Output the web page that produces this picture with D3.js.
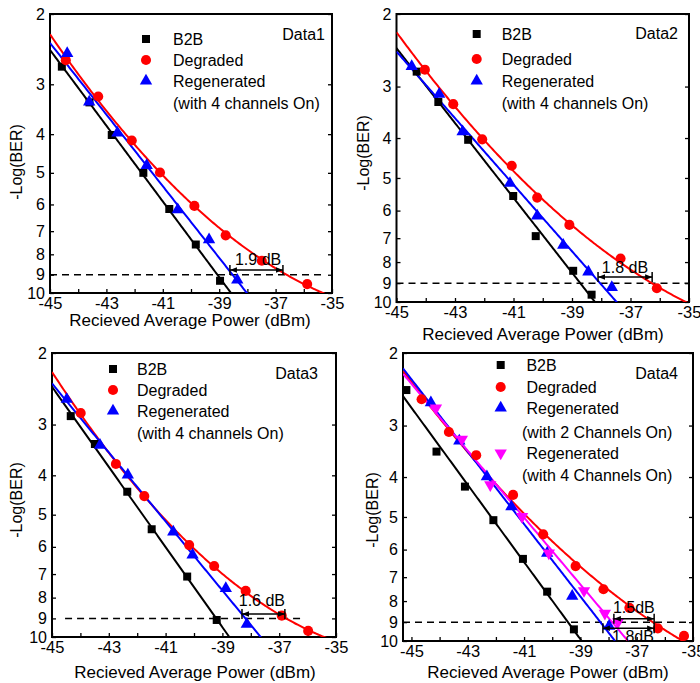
<!DOCTYPE html>
<html><head><meta charset="utf-8">
<script src="https://cdn.jsdelivr.net/npm/d3@7"></script>
<style>body{margin:0;background:#fff} text{font-family:"Liberation Sans",Arial,sans-serif;fill:#000}</style>
</head><body><svg id="c" width="700" height="683"></svg>
<script>
// ---------- DATA ----------
const xTickValues = [-45,-44,-43,-42,-41,-40,-39,-38,-37,-36,-35];
const xTickLabels = ["-45","","-43","","-41","","-39","","-37","","-35"];
const yTickValues = [2,3,4,5,6,7,8,9,10];
const threshold = 9;

// Panel 1 (Data1)
const p1_b2b_x = [-44.58,-43.60,-42.81,-41.69,-40.77,-39.83,-38.97];
const p1_b2b_y = [2.71,3.33,4.02,5.00,6.16,7.56,9.32];
const p1_deg_x = [-44.44,-43.29,-42.10,-41.10,-39.88,-38.77,-37.49,-35.88];
const p1_deg_y = [2.61,3.22,4.15,4.99,6.05,7.17,8.30,9.50];
const p1_reg_x = [-44.39,-43.61,-42.61,-41.57,-40.47,-39.36,-38.36];
const p1_reg_y = [2.51,3.32,3.97,4.79,6.18,7.35,9.28];

// Panel 2 (Data2)
const p2_b2b_x = [-44.31,-43.57,-42.55,-41.01,-40.24,-38.96,-38.33];
const p2_b2b_y = [2.76,3.27,4.04,5.53,6.92,8.40,9.60];
const p2_deg_x = [-44.03,-43.06,-42.07,-41.06,-40.19,-39.09,-37.34,-36.10];
const p2_deg_y = [2.73,3.31,4.03,4.67,5.58,6.50,7.84,9.26];
const p2_reg_x = [-44.48,-43.54,-42.74,-41.12,-40.19,-39.30,-38.44,-37.64];
const p2_reg_y = [2.68,3.13,3.86,5.15,6.18,7.28,8.45,9.22];

// Panel 3 (Data3)
const p3_b2b_x = [-44.34,-43.49,-42.35,-41.49,-40.24,-39.20];
const p3_b2b_y = [2.86,3.35,4.39,5.43,7.10,9.08];
const p3_deg_x = [-43.99,-42.75,-41.75,-40.17,-39.29,-38.18,-36.91,-35.98];
const p3_deg_y = [2.81,3.75,4.50,5.94,6.69,7.70,8.86,9.66];
const p3_reg_x = [-44.48,-43.31,-42.33,-40.73,-40.05,-38.88,-38.14];
const p3_reg_y = [2.60,3.37,3.99,5.51,6.28,7.59,9.30];

// Panel 4 (Data4)
const p4_b2b_x = [-45.18,-44.11,-43.10,-42.09,-41.04,-40.18,-39.23];
const p4_b2b_y = [2.46,3.47,4.22,5.09,6.32,7.59,9.37];
const p4_deg_x = [-44.64,-43.67,-42.70,-41.39,-40.32,-39.17,-38.18,-37.26,-36.25,-35.32];
const p4_deg_y = [2.59,3.11,3.54,4.42,5.51,6.58,7.49,8.31,9.32,9.72];
const p4_reg2_x = [-44.31,-43.30,-42.32,-41.45,-40.18,-39.29,-37.98];
const p4_reg2_y = [2.64,3.27,3.99,4.72,6.12,7.78,9.20];
const p4_reg4_x = [-44.13,-43.21,-42.20,-41.07,-40.12,-38.87,-38.13,-37.66];
const p4_reg4_y = [2.72,3.24,4.18,4.99,6.12,7.55,8.57,8.98];

// Threshold line extents (x from, x to) per panel
const thrExtent = [[-45,-35.35],[-45,-35],[-44.54,-36.2],[-45.3,-35]];

// Annotations: [x1, x2, yArrow, labelX, labelY, text]
const p1_ann = [[-38.62,-36.74,8.76,-37.62,8.22,"1.9 dB"]];
const p2_ann = [[-38.11,-36.26,8.70,-37.19,8.22,"1.8 dB"]];
const p3_ann = [[-38.31,-36.80,8.78,-37.61,8.12,"1.6 dB"]];
const p4_ann = [[-37.81,-36.38,8.83,-37.10,8.28,"1.5dB"],[-38.20,-36.38,9.31,-37.13,9.77,"1.8dB"]];

const legend4ch = ["B2B","Degraded","Regenerated","(with 4 channels On)"];
const legendP4 = [" B2B"," Degraded"," Regenerated","(with 2 Channels On)"," Regenerated","(with 4 Channels On)"];

// ---------- STYLES / LAYOUT ----------
const BLACK="#000000", RED="#ff0000", BLUE="#0000ff", MAG="#ff00ff";
const S = (x,y,deg,color,sym)=>({x,y,deg,color,sym});
const panels = [
 {name:"Data1", box:{l:50,r:332,t:14,b:293}, xDom:[-45,-35],
  series:[S(p1_b2b_x,p1_b2b_y,1,BLACK,"sq"),S(p1_deg_x,p1_deg_y,2,RED,"ci"),S(p1_reg_x,p1_reg_y,1,BLUE,"up")],
  legend:{mx:146,tx:173,ptx:173,rows:[39,60,81,103],texts:legend4ch,syms:[["sq",BLACK],["ci",RED],["up",BLUE],null]},
  ann:p1_ann, dl:[325,34], xt:[190,326], yt:[16,162]},
 {name:"Data2", box:{l:396.5,r:689,t:14,b:302}, xDom:[-45,-35],
  series:[S(p2_b2b_x,p2_b2b_y,1,BLACK,"sq"),S(p2_deg_x,p2_deg_y,2,RED,"ci"),S(p2_reg_x,p2_reg_y,1,BLUE,"up")],
  legend:{mx:476.7,tx:501.7,ptx:501.7,rows:[34,59,81,103],texts:legend4ch,syms:[["sq",BLACK],["ci",RED],["up",BLUE],null]},
  ann:p2_ann, dl:[678,33], xt:[543,340], yt:[363,153]},
 {name:"Data3", box:{l:52,r:336,t:353,b:637}, xDom:[-45,-35],
  series:[S(p3_b2b_x,p3_b2b_y,1,BLACK,"sq"),S(p3_deg_x,p3_deg_y,2,RED,"ci"),S(p3_reg_x,p3_reg_y,1,BLUE,"up")],
  legend:{mx:113,tx:137,ptx:137,rows:[369,390,411,433],texts:legend4ch,syms:[["sq",BLACK],["ci",RED],["up",BLUE],null]},
  ann:p3_ann, dl:[318,373], xt:[195,678], yt:[16,500]},
 {name:"Data4", box:{l:403,r:693,t:353,b:641}, xDom:[-45.3,-35],
  series:[S(p4_b2b_x,p4_b2b_y,1,BLACK,"sq"),S(p4_deg_x,p4_deg_y,2,RED,"ci"),S(p4_reg2_x,p4_reg2_y,1,BLUE,"up"),S(p4_reg4_x,p4_reg4_y,1,MAG,"dn")],
  legend:{mx:500.7,tx:522,ptx:522,rows:[365,387,408,432,453,475],texts:legendP4,syms:[["sq",BLACK],["ci",RED],["up",BLUE],null,["dn",MAG],null]},
  ann:p4_ann, dl:[678,373], xt:[548,678], yt:[372,510]}
];

// ---------- HELPERS ----------
function polyfit(xs, ys, deg){
  const n=deg+1, A=[...Array(n)].map(()=>Array(n+1).fill(0));
  xs.forEach((x,i)=>{const y=ys[i];
    for(let r=0;r<n;r++){for(let c=0;c<n;c++)A[r][c]+=Math.pow(x,r+c);A[r][n]+=y*Math.pow(x,r);}});
  for(let i=0;i<n;i++){let p=i;for(let k=i+1;k<n;k++)if(Math.abs(A[k][i])>Math.abs(A[p][i]))p=k;[A[i],A[p]]=[A[p],A[i]];
    for(let k=0;k<n;k++){if(k===i)continue;const f=A[k][i]/A[i][i];for(let c=i;c<=n;c++)A[k][c]-=f*A[i][c];}}
  return A.map((row,i)=>row[n]/row[i]);
}
const symPath = {
  sq: d3.symbol(d3.symbolSquare,64)(),
  ci: d3.symbol(d3.symbolCircle,80)(),
  up: d3.symbol(d3.symbolTriangle,66)(),
  dn: d3.symbol(d3.symbolTriangle,66)()
};
function drawSym(g,sym,color,x,y){
  g.append("path").attr("d",symPath[sym]).attr("fill",color)
   .attr("transform",`translate(${x},${y})`+(sym==="dn"?" rotate(180)":""));
}

const svg=d3.select("#c");
const defs=svg.append("defs");
defs.append("marker").attr("id","ah").attr("viewBox","0 0 10 10").attr("refX",10).attr("refY",5)
 .attr("markerWidth",7).attr("markerHeight",7).attr("markerUnits","userSpaceOnUse").attr("orient","auto-start-reverse")
 .append("path").attr("d","M0,1 L10,5 L0,9 Z").attr("fill","#000");

panels.forEach((p,pi)=>{
  const b=p.box;
  const x=d3.scaleLinear().domain(p.xDom).range([b.l,b.r]);
  const y=d3.scaleLog().domain([2,10]).range([b.t,b.b]);
  const g=svg.append("g");
  defs.append("clipPath").attr("id","cl"+pi).append("rect").attr("x",b.l).attr("y",b.t).attr("width",b.r-b.l).attr("height",b.b-b.t);

  // axes
  const xa=d3.axisBottom(x).tickValues(xTickValues).tickFormat((d,i)=>xTickLabels[i]).tickSizeInner(-4).tickSizeOuter(0).tickPadding(4);
  const gx=g.append("g").attr("transform",`translate(0,${b.b})`).call(xa);
  const ya=d3.axisLeft(y).tickValues(yTickValues).tickFormat(d3.format("d")).tickSizeInner(-4).tickSizeOuter(0).tickPadding(5);
  const gy=g.append("g").attr("transform",`translate(${b.l},0)`).call(ya);
  const yr=d3.axisRight(y).tickValues(yTickValues).tickFormat("").tickSizeInner(-4).tickSizeOuter(0);
  const gyr=g.append("g").attr("transform",`translate(${b.r},0)`).call(yr);
  [gx,gy,gyr].forEach(a=>{a.select(".domain").remove();a.selectAll("line").attr("stroke","#000").attr("stroke-width",1.3);
    a.selectAll("text").attr("font-size",16).attr("font-family",'"Liberation Sans",Arial,sans-serif').attr("fill","#000");});
  gx.selectAll("text").attr("font-size",16.5);
  g.append("rect").attr("x",b.l).attr("y",b.t).attr("width",b.r-b.l).attr("height",b.b-b.t)
   .attr("fill","none").attr("stroke","#000").attr("stroke-width",2);

  // titles
  g.append("text").attr("x",p.xt[0]).attr("y",p.xt[1]).attr("text-anchor","middle").attr("font-size",17).text("Recieved Average Power (dBm)");
  g.append("text").attr("transform",`translate(${p.yt[0]},${p.yt[1]}) rotate(-90)`).attr("dy","0.35em").attr("text-anchor","middle").attr("font-size",16).text("-Log(BER)");

  const plot=g.append("g").attr("clip-path",`url(#cl${pi})`);
  // threshold dashed line
  const te=thrExtent[pi];
  plot.append("line").attr("x1",x(te[0])).attr("x2",x(te[1])).attr("y1",y(threshold)).attr("y2",y(threshold))
   .attr("stroke","#000").attr("stroke-width",1.5).attr("stroke-dasharray","7,5");

  // fits
  p.series.forEach(s=>{
    const c=polyfit(s.x,s.y.map(v=>Math.log10(v)),s.deg);
    const xs=d3.range(201).map(i=>p.xDom[0]+(p.xDom[1]-p.xDom[0])*i/200);
    const pts=xs.map(xv=>[xv,Math.pow(10,c.reduce((a,ci,k)=>a+ci*Math.pow(xv,k),0))]).filter(d=>d[1]>1.5&&d[1]<12);
    plot.append("path").attr("d",d3.line().x(d=>x(d[0])).y(d=>y(d[1]))(pts))
      .attr("fill","none").attr("stroke",s.color).attr("stroke-width",2);
  });
  // markers
  p.series.forEach(s=>{ s.x.forEach((xv,i)=>drawSym(g,s.sym,s.color,x(xv),y(s.y[i]))); });

  // annotations
  p.ann.forEach(a=>{
    const yy=y(a[2]);
    g.append("line").attr("x1",x(a[0])).attr("x2",x(a[1])).attr("y1",yy).attr("y2",yy)
      .attr("stroke","#000").attr("stroke-width",1.5).attr("marker-start","url(#ah)").attr("marker-end","url(#ah)");
    [a[0],a[1]].forEach(v=>g.append("line").attr("x1",x(v)).attr("x2",x(v)).attr("y1",yy-5).attr("y2",yy+5).attr("stroke","#000").attr("stroke-width",1.5));
    g.append("text").attr("x",x(a[3])).attr("y",y(a[4])).attr("dy","0.35em").attr("text-anchor","middle").attr("font-size",16).text(a[5]);
  });

  // legend
  const L=p.legend;
  L.texts.forEach((t,i)=>{
    const sy=L.syms[i];
    if(sy) drawSym(g,sy[0],sy[1],L.mx,L.rows[i]);
    g.append("text").attr("x",sy?L.tx:L.ptx).attr("y",L.rows[i]).attr("dy","0.35em").attr("font-size",16).attr("xml:space","preserve").text(t);
  });
  g.append("text").attr("x",p.dl[0]).attr("y",p.dl[1]).attr("dy","0.35em").attr("text-anchor","end").attr("font-size",16).text(p.name);
});
</script></body></html>
